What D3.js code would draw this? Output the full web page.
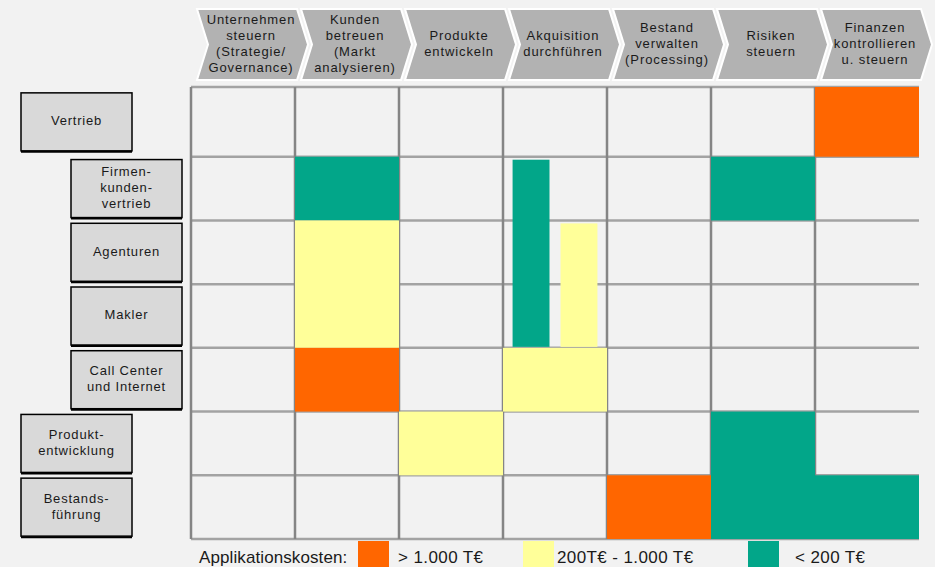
<!DOCTYPE html>
<html>
<head>
<meta charset="utf-8">
<script src="https://cdn.jsdelivr.net/npm/d3@7"></script>
<style>
  body { margin: 0; background: #f2f2f2; }
  svg { display: block; font-family: "Liberation Sans", Arial, sans-serif; }
</style>
</head>
<body>
<div id="matrix"></div>
<script>
// process stages (columns), each label split into lines
const stages = ["Unternehmen steuern", "Kunden betreuen", "Produkte entwickeln", "Akquisition durchführen",
                "Bestand verwalten", "Risiken steuern", "Finanzen kontrollieren"];
const stageLines = [
  ["Unternehmen", "steuern", "(Strategie/", "Governance)"],
  ["Kunden", "betreuen", "(Markt", "analysieren)"],
  ["Produkte", "entwickeln"],
  ["Akquisition", "durchführen"],
  ["Bestand", "verwalten", "(Processing)"],
  ["Risiken", "steuern"],
  ["Finanzen", "kontrollieren", "u. steuern"]
];

// organisational units (rows)
const units = ["Vertrieb", "Firmenkundenvertrieb", "Agenturen", "Makler", "Call Center", "Produktentwicklung", "Bestandsführung"];
const unitLines = [
  ["Vertrieb"],
  ["Firmen-", "kunden-", "vertrieb"],
  ["Agenturen"],
  ["Makler"],
  ["Call Center", "und Internet"],
  ["Produkt-", "entwicklung"],
  ["Bestands-", "führung"]
];
const unitLevel = [0, 1, 1, 1, 1, 0, 0];

// cost classes
const costClasses = ["> 1.000 T€", "200T€ - 1.000 T€", "< 200 T€"];

// application blocks: stage, first unit, last unit, cost class
const blocks = [
  { stage: "Finanzen kontrollieren", from: "Vertrieb", to: "Vertrieb", cost: "> 1.000 T€" },
  { stage: "Kunden betreuen", from: "Firmenkundenvertrieb", to: "Firmenkundenvertrieb", cost: "< 200 T€" },
  { stage: "Risiken steuern", from: "Firmenkundenvertrieb", to: "Firmenkundenvertrieb", cost: "< 200 T€" },
  { stage: "Kunden betreuen", from: "Agenturen", to: "Makler", cost: "200T€ - 1.000 T€" },
  { stage: "Kunden betreuen", from: "Call Center", to: "Call Center", cost: "> 1.000 T€" },
  { stage: "Akquisition durchführen", from: "Call Center", to: "Call Center", cost: "200T€ - 1.000 T€" },
  { stage: "Produkte entwickeln", from: "Produktentwicklung", to: "Produktentwicklung", cost: "200T€ - 1.000 T€" },
  { stage: "Risiken steuern", from: "Produktentwicklung", to: "Bestandsführung", cost: "< 200 T€" },
  { stage: "Bestand verwalten", from: "Bestandsführung", to: "Bestandsführung", cost: "> 1.000 T€" },
  { stage: "Finanzen kontrollieren", from: "Bestandsführung", to: "Bestandsführung", cost: "< 200 T€" }
];

// narrow applications sharing one stage column
const slimBlocks = [
  { stage: "Akquisition durchführen", slot: "a", from: "Firmenkundenvertrieb", to: "Makler", cost: "< 200 T€" },
  { stage: "Akquisition durchführen", slot: "b", from: "Agenturen", to: "Makler", cost: "200T€ - 1.000 T€" }
];

const width = 935, height = 567;
const gridTop = 87;

const svg = d3.select("#matrix").append("svg")
  .attr("width", width)
  .attr("height", height);

svg.append("rect").attr("width", width).attr("height", height).attr("fill", "#f2f2f2");

const x = d3.scaleBand().domain(stages).range([191, 919]);
const y = d3.scaleBand().domain(units).range([93, 539]);
const slot = d3.scaleBand().domain(["a", "b"]).range([0, x.bandwidth()]).paddingInner(0.23).paddingOuter(0.2);

const color = d3.scaleOrdinal()
  .domain(costClasses)
  .range(["#ff6600", "#ffff99", "#02a689"]);

const rowTop = u => units.indexOf(u) === 0 ? gridTop : y(u);

// chevrons for the stages
const depth = 11, chevTop = 9, chevBot = 80, chevMid = (chevTop + chevBot) / 2;
const chev = svg.append("g")
  .selectAll("g")
  .data(stages)
  .join("g")
    .attr("transform", d => `translate(${x(d) + 6},0)`);

chev.append("path")
  .attr("d", () => {
    const w = x.bandwidth() - 4;
    return `M0,${chevTop} L${w},${chevTop} L${w + depth},${chevMid} L${w},${chevBot} L0,${chevBot} L${depth},${chevMid} Z`;
  })
  .attr("fill", "#b2b2b2")
  .attr("stroke", "#ffffff")
  .attr("stroke-width", 2);

chev.append("text")
  .attr("text-anchor", "middle")
  .attr("font-size", 13)
  .attr("letter-spacing", 0.9)
  .attr("fill", "#1a1a1a")
  .selectAll("tspan")
  .data((d, i) => stageLines[i].map((t, k, arr) => ({ t, k, n: arr.length })))
  .join("tspan")
    .attr("x", x.bandwidth() / 2 + 2)
    .attr("y", d => chevMid + (d.k - (d.n - 1) / 2) * 16)
    .attr("dominant-baseline", "middle")
    .text(d => d.t);

// grid lines
const grid = svg.append("g");
grid.selectAll("line.h")
  .data([gridTop].concat(units.slice(1).map(u => y(u))).concat([y.range()[1]]))
  .join("line")
    .attr("class", "h")
    .attr("x1", x.range()[0]).attr("x2", x.range()[1])
    .attr("y1", d => d).attr("y2", d => d)
    .attr("stroke", "#a3a3a3")
    .attr("stroke-width", 2.5);

grid.selectAll("line.v")
  .data(stages)
  .join("line")
    .attr("class", "v")
    .attr("x1", d => x(d)).attr("x2", d => x(d))
    .attr("y1", gridTop).attr("y2", y.range()[1])
    .attr("stroke", "#858585")
    .attr("stroke-width", 2.5);

// application cells
svg.append("g")
  .selectAll("rect")
  .data(blocks)
  .join("rect")
    .attr("x", d => x(d.stage))
    .attr("y", d => rowTop(d.from))
    .attr("width", x.bandwidth())
    .attr("height", d => y(d.to) + y.bandwidth() - rowTop(d.from))
    .attr("fill", d => color(d.cost));

svg.append("g")
  .selectAll("rect")
  .data(slimBlocks)
  .join("rect")
    .attr("x", d => x(d.stage) + slot(d.slot))
    .attr("y", d => rowTop(d.from) + 3)
    .attr("width", slot.bandwidth())
    .attr("height", d => y(d.to) + y.bandwidth() - rowTop(d.from) - 4)
    .attr("fill", d => color(d.cost));

// unit labels on the left
const boxX = [21, 71], boxW = 111, boxH = 58;
const lab = svg.append("g")
  .selectAll("g")
  .data(units)
  .join("g")
    .attr("transform", (d, i) => `translate(${boxX[unitLevel[i]]},${rowTop(d) + ((i === 0 ? y(d) + y.bandwidth() - gridTop : y.bandwidth()) - boxH) / 2})`);

lab.append("rect")
  .attr("width", boxW)
  .attr("height", boxH)
  .attr("fill", "#d9d9d9")
  .attr("stroke", "#000")
  .attr("stroke-width", 1.5);

lab.append("line")
  .attr("x1", 0).attr("x2", boxW)
  .attr("y1", boxH + 1).attr("y2", boxH + 1)
  .attr("stroke", "#000").attr("stroke-width", 2);

lab.append("text")
  .attr("text-anchor", "middle")
  .attr("font-size", 13)
  .attr("letter-spacing", 0.8)
  .attr("fill", "#1a1a1a")
  .selectAll("tspan")
  .data((d, i) => unitLines[i].map((t, k, arr) => ({ t, k, n: arr.length })))
  .join("tspan")
    .attr("x", boxW / 2)
    .attr("y", d => boxH / 2 + (d.k - (d.n - 1) / 2) * 16)
    .attr("dominant-baseline", "middle")
    .text(d => d.t);

// legend
const legend = svg.append("g");
legend.append("text")
  .attr("x", 199).attr("y", 563)
  .attr("font-size", 17)
  .attr("letter-spacing", 0.1)
  .attr("fill", "#1a1a1a")
  .text("Applikationskosten:");

const legX = d3.scaleOrdinal().domain(costClasses).range([358, 523, 748]);
const legTextDx = [40, 34, 47];
const item = legend.selectAll("g")
  .data(costClasses)
  .join("g")
    .attr("transform", d => `translate(${legX(d)},541)`);

item.append("rect")
  .attr("width", 31).attr("height", 28)
  .attr("fill", d => color(d));

item.append("text")
  .attr("x", (d, i) => legTextDx[i])
  .attr("y", 22)
  .attr("font-size", 17)
  .attr("letter-spacing", 0.4)
  .attr("fill", "#1a1a1a")
  .text(d => d);
</script>
</body>
</html>
